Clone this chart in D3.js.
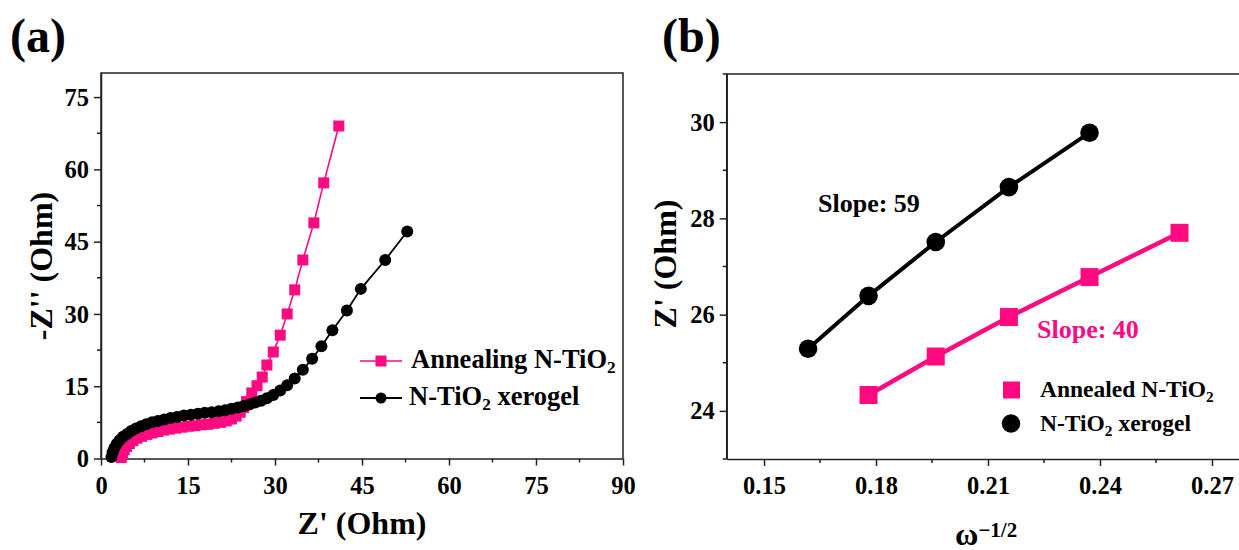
<!DOCTYPE html>
<html><head><meta charset="utf-8">
<script src="https://cdn.jsdelivr.net/npm/d3@7"></script>
<style>
html,body{margin:0;padding:0;background:#fff;}
svg text{font-family:"Liberation Serif","Times New Roman",serif;font-weight:bold;}
</style></head>
<body><svg id="c" width="1239" height="550"></svg>
<script>
// ---------- data ----------
// Panel (a): Nyquist plot  [Z', -Z'']
const annealingZ = [[3.5,0.2],[3.7,1.0],[4.0,1.8],[4.4,2.5],[4.9,3.1],[5.5,3.7],[6.2,4.2],[7.0,4.6],[7.9,5.0],[8.8,5.3],[9.8,5.6],[10.8,5.9],[11.8,6.1],[12.9,6.3],[14.0,6.5],[15.1,6.7],[16.2,6.8],[17.3,7.0],[18.4,7.1],[19.5,7.3],[20.6,7.5],[21.6,7.8],[22.5,8.2],[23.3,8.8],[24.0,9.6],[24.6,10.6],[25.1,11.8],[26.0,13.6],[26.9,15.1],[27.8,16.9],[28.6,19.4],[29.7,22.1],[30.9,25.6],[32.1,30.0],[33.4,35.0],[34.8,41.2],[36.7,48.9],[38.4,57.2],[41.0,69.0]];
const xerogelZ = [[1.8,0.3],[2.0,1.3],[2.3,2.2],[2.7,3.0],[3.2,3.8],[3.8,4.5],[4.5,5.1],[5.2,5.7],[6.0,6.2],[6.9,6.7],[7.8,7.1],[8.8,7.5],[9.8,7.8],[10.9,8.1],[12.0,8.4],[13.1,8.6],[14.3,8.9],[15.5,9.1],[16.7,9.3],[17.9,9.5],[19.1,9.6],[20.3,9.8],[21.4,10.0],[22.5,10.3],[23.6,10.6],[24.6,10.9],[25.6,11.2],[26.6,11.6],[27.6,12.0],[28.6,12.5],[29.7,13.2],[30.9,14.1],[32.1,15.2],[33.4,16.6],[34.8,18.4],[36.4,20.7],[38.0,23.3],[39.9,26.6],[42.4,30.7],[44.8,35.2],[49.0,41.2],[52.8,47.1]];
const aXTicks = [0,15,30,45,60,75,90];
const aXMinor = [7.5,22.5,37.5,52.5,67.5,82.5];
const aYTicks = [0,15,30,45,60,75];
const aYMinor = [7.5,22.5,37.5,52.5,67.5];

// Panel (b): Z' vs omega^-1/2
const annealedW = [0.178,0.196,0.2156,0.2372,0.2613];
const annealedZr = [24.33,25.13,25.95,26.78,27.70];
const xerogelW = [0.1618,0.178,0.196,0.2156,0.2372];
const xerogelZr = [25.29,26.39,27.51,28.65,29.78];
const bXTicks = [0.15,0.18,0.21,0.24,0.27];
const bXMinor = [0.165,0.195,0.225,0.255];
const bYTicks = [24,26,28,30];
const bYMinor = [23,25,27,29,31];

const PINK = "#ff0a80", BLACK = "#000";
const svg = d3.select("#c");

function styleAxis(g, fs){
  g.selectAll("path.domain").attr("stroke","#222").attr("stroke-width",1.5);
  g.selectAll(".tick line").attr("stroke","#222").attr("stroke-width",1.5);
  g.selectAll(".tick text").attr("font-size",fs).attr("fill","#000")
   .style("font-family",'"Liberation Serif","Times New Roman",serif').style("font-weight","bold");
}
function frame(x0,x1,y0,y1){
  svg.append("path").attr("d",`M${x0},${y1}V${y0}H${x1}V${y1}`)
    .attr("fill","none").attr("stroke","#222").attr("stroke-width",1.5);
}
function minorTicks(scale, vals, orient, pos){
  const g = svg.append("g");
  vals.forEach(v=>{
    const p = scale(v);
    if(orient==="bottom") g.append("line").attr("x1",p).attr("x2",p).attr("y1",pos).attr("y2",pos+4);
    else g.append("line").attr("y1",p).attr("y2",p).attr("x1",pos).attr("x2",pos-4);
  });
  g.selectAll("line").attr("stroke","#222").attr("stroke-width",1.5);
}
function subText(sel, parts){
  parts.forEach(([t,s],i)=>{
    const ts = sel.append("tspan").text(t);
    if(s){ ts.attr("font-size","0.65em").attr("dy","0.3em"); }
    else if(i>0 && parts[i-1][1]){ ts.attr("dy","-0.195em"); }
  });
}

// ---------- panel (a) ----------
const xA = d3.scaleLinear([0,90],[101,623]);
const yA = d3.scaleLinear([0,80],[458.5,73]);
frame(101,623,73,458.5);
const gxa = svg.append("g").attr("transform","translate(0,458.5)")
  .call(d3.axisBottom(xA).tickValues(aXTicks).tickSize(7).tickSizeOuter(0).tickPadding(11).tickFormat(d3.format("d")));
styleAxis(gxa,"24.5px");
const gya = svg.append("g").attr("transform","translate(101,0)")
  .call(d3.axisLeft(yA).tickValues(aYTicks).tickSize(7).tickSizeOuter(0).tickPadding(5).tickFormat(d3.format("d")));
styleAxis(gya,"24.5px");
gya.selectAll(".tick text").attr("dy","0.33em");
minorTicks(xA,aXMinor,"bottom",458.5);
minorTicks(yA,aYMinor,"left",101);

const lineA = d3.line().x(d=>xA(d[0])).y(d=>yA(d[1]));
svg.append("path").datum(annealingZ).attr("d",lineA).attr("fill","none").attr("stroke",PINK).attr("stroke-width",1.6);
svg.append("g").selectAll("rect").data(annealingZ).join("rect")
  .attr("x",d=>xA(d[0])-5.5).attr("y",d=>yA(d[1])-5.5).attr("width",11).attr("height",11).attr("fill",PINK);
svg.append("path").datum(xerogelZ).attr("d",lineA).attr("fill","none").attr("stroke",BLACK).attr("stroke-width",1.8);
svg.append("g").selectAll("circle").data(xerogelZ).join("circle")
  .attr("cx",d=>xA(d[0])).attr("cy",d=>yA(d[1])).attr("r",6).attr("fill",BLACK);

// legend (a)
svg.append("line").attr("x1",360).attr("x2",402).attr("y1",361).attr("y2",361).attr("stroke",PINK).attr("stroke-width",1.6);
svg.append("rect").attr("x",375.5).attr("y",355.5).attr("width",11).attr("height",11).attr("fill",PINK);
subText(svg.append("text").attr("x",411).attr("y",368).attr("font-size","26.5px"),[["Annealing N-TiO",0],["2",1]]);
svg.append("line").attr("x1",360).attr("x2",402).attr("y1",398).attr("y2",398).attr("stroke",BLACK).attr("stroke-width",1.8);
svg.append("circle").attr("cx",381).attr("cy",398).attr("r",5.5).attr("fill",BLACK);
subText(svg.append("text").attr("x",409).attr("y",405).attr("font-size","26.5px"),[["N-TiO",0],["2",1],[" xerogel",0]]);

// titles (a)
svg.append("text").attr("x",362).attr("y",534).attr("text-anchor","middle").attr("font-size","32px").text("Z' (Ohm)");
svg.append("text").attr("transform","translate(52,266) rotate(-90)").attr("text-anchor","middle").attr("font-size","32px").text("-Z'' (Ohm)");
svg.append("text").attr("x",10).attr("y",52).attr("font-size","48px").text("(a)");

// ---------- panel (b) ----------
const xB = d3.scaleLinear([0.14,0.28],[726.7,1249.3]);
const yB = d3.scaleLinear([23,31],[459,74]);
frame(726.7,1249.3,74,459);
const gxb = svg.append("g").attr("transform","translate(0,459)")
  .call(d3.axisBottom(xB).tickValues(bXTicks).tickSize(7).tickSizeOuter(0).tickPadding(11).tickFormat(d3.format(".2f")));
styleAxis(gxb,"24.5px");
const gyb = svg.append("g").attr("transform","translate(726.7,0)")
  .call(d3.axisLeft(yB).tickValues(bYTicks).tickSize(7).tickSizeOuter(0).tickPadding(5).tickFormat(d3.format("d")));
styleAxis(gyb,"24.5px");
gyb.selectAll(".tick text").attr("dy","0.33em");
minorTicks(xB,bXMinor,"bottom",459);
minorTicks(yB,bYMinor,"left",726.7);

const xgPts = xerogelW.map((w,i)=>[w,xerogelZr[i]]);
const anPts = annealedW.map((w,i)=>[w,annealedZr[i]]);
const lineB = d3.line().x(d=>xB(d[0])).y(d=>yB(d[1]));
svg.append("path").datum(xgPts).attr("d",lineB).attr("fill","none").attr("stroke",BLACK).attr("stroke-width",4);
svg.append("g").selectAll("circle").data(xgPts).join("circle")
  .attr("cx",d=>xB(d[0])).attr("cy",d=>yB(d[1])).attr("r",9.3).attr("fill",BLACK);
svg.append("path").datum(anPts).attr("d",lineB).attr("fill","none").attr("stroke",PINK).attr("stroke-width",4.5);
svg.append("g").selectAll("rect").data(anPts).join("rect")
  .attr("x",d=>xB(d[0])-9).attr("y",d=>yB(d[1])-9).attr("width",18).attr("height",18).attr("fill",PINK);

svg.append("text").attr("x",818).attr("y",212).attr("font-size","26px").attr("fill",BLACK).text("Slope: 59");
svg.append("text").attr("x",1037).attr("y",338).attr("font-size","26px").attr("fill",PINK).text("Slope: 40");

// legend (b)
svg.append("rect").attr("x",1003).attr("y",381.5).attr("width",17).attr("height",17).attr("fill",PINK);
subText(svg.append("text").attr("x",1040).attr("y",397).attr("font-size","23.5px"),[["Annealed N-TiO",0],["2",1]]);
svg.append("circle").attr("cx",1011).attr("cy",423.5).attr("r",9.3).attr("fill",BLACK);
subText(svg.append("text").attr("x",1040).attr("y",431).attr("font-size","23.5px"),[["N-TiO",0],["2",1],[" xerogel",0]]);

// titles (b)
const tb = svg.append("text").attr("x",955).attr("y",545).attr("font-size","32px");
tb.append("tspan").text("ω");
tb.append("tspan").attr("font-size","21px").attr("dy","-8").text("−1/2");
svg.append("text").attr("transform","translate(676,264) rotate(-90)").attr("text-anchor","middle").attr("font-size","32px").text("Z' (Ohm)");
svg.append("text").attr("x",662).attr("y",52).attr("font-size","48px").text("(b)");
</script></body></html>
